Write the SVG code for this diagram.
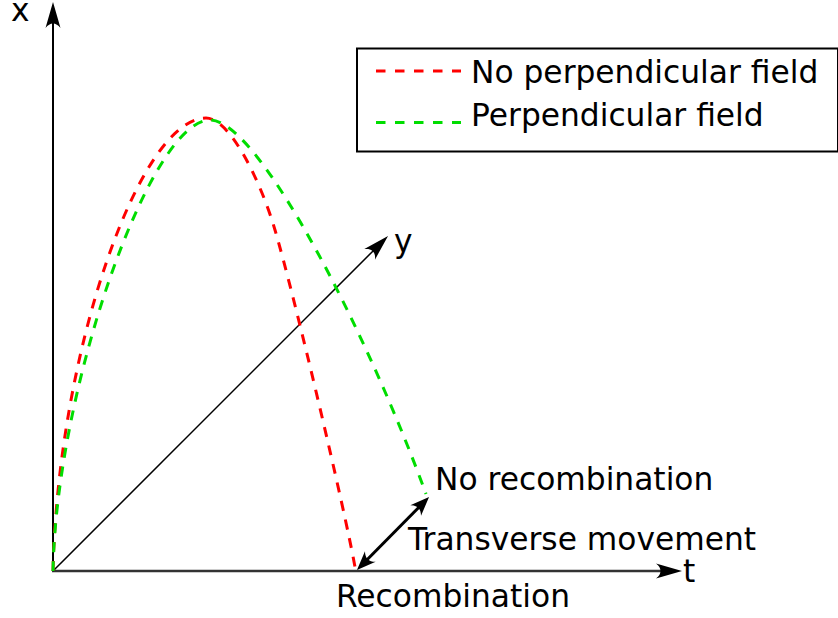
<svg xmlns="http://www.w3.org/2000/svg" width="838" height="618" viewBox="0 0 838 618">
  <style>
    .lbl { font-family: "DejaVu Sans", "Liberation Sans", sans-serif; font-size: 31.3px; fill: #000; }
    .curve { fill: none; stroke-width: 3; stroke-dasharray: 10 9; }
    .red { stroke: #ff0000; }
    .green { stroke: #00dd00; }
  </style>
  <defs>
    <marker id="axisArrow" markerUnits="userSpaceOnUse" viewBox="-30 -10 32 20" markerWidth="32" markerHeight="20" refX="-18" refY="0" orient="auto" overflow="visible">
      <path d="M0,0 L-26,-7.5 C-20,-3 -20,3 -26,7.5 Z" fill="#000"/>
    </marker>
    <marker id="dblArrow" markerUnits="userSpaceOnUse" viewBox="-22 -9 24 18" markerWidth="24" markerHeight="18" refX="-14" refY="0" orient="auto-start-reverse" overflow="visible">
      <path d="M0,0 L-19,-7.5 C-14,-2.5 -14,2.5 -19,7.5 Z" fill="#000"/>
    </marker>
  </defs>
  <rect width="838" height="618" fill="#fff"/>

  <g id="connectors">
    <line id="axis-x" x1="53" y1="572" x2="53" y2="20" stroke="#000" stroke-width="2" marker-end="url(#axisArrow)"/>
    <line id="axis-t" x1="52" y1="571" x2="664" y2="571" stroke="#333" stroke-width="2.5" marker-end="url(#axisArrow)"/>
    <line id="axis-y" x1="53" y1="571" x2="375.3" y2="248.7" stroke="#000" stroke-width="1.5" marker-end="url(#axisArrow)"/>
    <line id="transverse" x1="366.8" y1="560" x2="419.2" y2="507" stroke="#000" stroke-width="3" marker-start="url(#dblArrow)" marker-end="url(#dblArrow)"/>
  </g>

  <g id="curve-no-field">
    <path class="curve red" d="M53,571 C58,350 140,118 206,118 C230,118 261,182 275,230 C295,298 345,511 355,567"/>
  </g>
  <g id="curve-field">
    <path class="curve green" d="M53,571 C56,390 150,120 210,120 C260,120 370,340 426,494"/>
  </g>

  <g id="legend">
    <rect x="357" y="48.5" width="481" height="103" fill="none" stroke="#000" stroke-width="2"/>
    <line x1="376" y1="71" x2="461" y2="71" stroke="#ff0000" stroke-width="3" stroke-dasharray="9.5 9.5"/>
    <text class="lbl" x="471" y="83">No perpendicular field</text>
    <line x1="376" y1="122.5" x2="461" y2="122.5" stroke="#00dd00" stroke-width="3" stroke-dasharray="9.5 9.5"/>
    <text class="lbl" x="471" y="126">Perpendicular field</text>
  </g>

  <g id="label-x"><text class="lbl" x="11" y="21">x</text></g>
  <g id="label-y"><text class="lbl" x="394" y="252">y</text></g>
  <g id="label-t"><text class="lbl" x="683" y="582">t</text></g>
  <g id="label-no-recombination"><text class="lbl" x="435" y="490">No recombination</text></g>
  <g id="label-transverse"><text class="lbl" x="408" y="550">Transverse movement</text></g>
  <g id="label-recombination"><text class="lbl" x="336" y="607">Recombination</text></g>
</svg>
